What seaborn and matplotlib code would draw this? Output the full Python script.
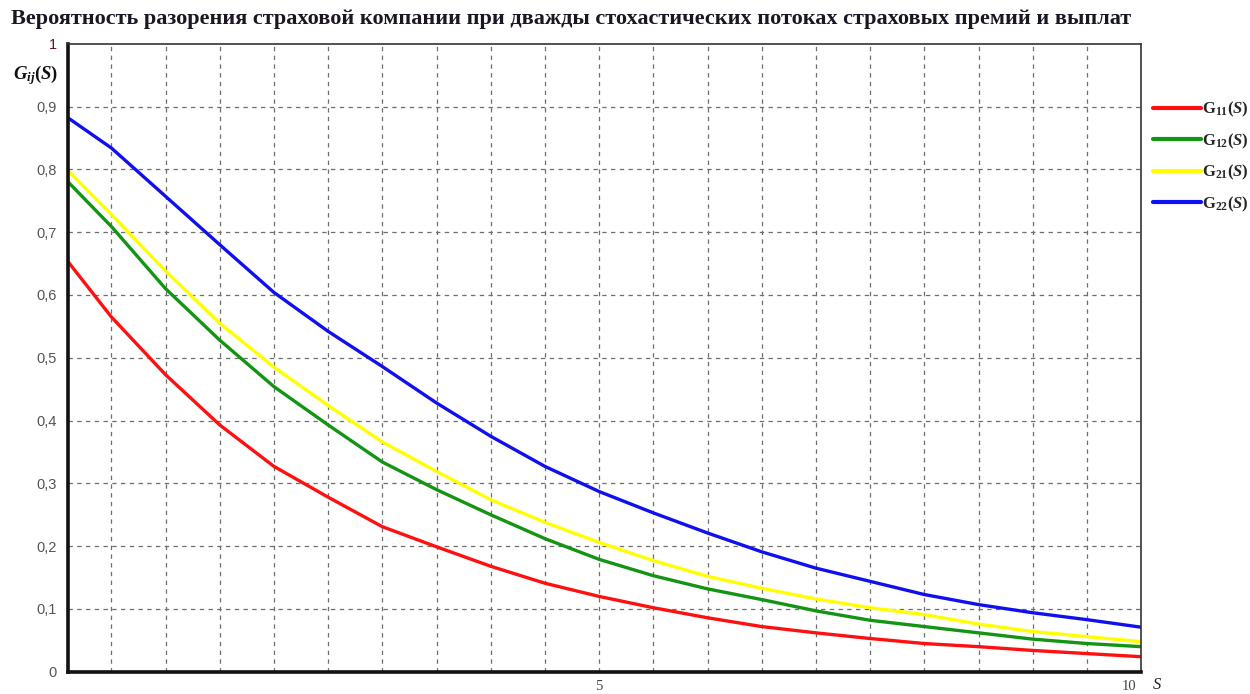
import matplotlib
matplotlib.use("Agg")
import matplotlib.pyplot as plt
import matplotlib.transforms as mtransforms
from matplotlib.ticker import MultipleLocator, FixedLocator
import numpy as np
import pandas as pd
import seaborn as sns

# Initial capital S
s_values = [0.1, 0.5, 1.0, 1.5, 2.0, 2.5, 3.0, 3.5, 4.0, 4.5, 5.0,
            5.5, 6.0, 6.5, 7.0, 7.5, 8.0, 8.5, 9.0, 9.5, 10.0]

# Ruin probabilities for the four premium/claim flow combinations
g11 = [0.653, 0.565, 0.473, 0.393, 0.327, 0.278, 0.231, 0.199, 0.168, 0.141, 0.120,
       0.102, 0.086, 0.072, 0.062, 0.053, 0.045, 0.040, 0.034, 0.029, 0.024]
g12 = [0.780, 0.709, 0.610, 0.528, 0.454, 0.393, 0.334, 0.290, 0.250, 0.212, 0.179,
       0.153, 0.132, 0.115, 0.097, 0.082, 0.072, 0.062, 0.052, 0.045, 0.040]
g21 = [0.798, 0.728, 0.638, 0.555, 0.485, 0.424, 0.366, 0.319, 0.274, 0.238, 0.206,
       0.177, 0.152, 0.133, 0.116, 0.102, 0.091, 0.076, 0.064, 0.056, 0.048]
g22 = [0.882, 0.834, 0.757, 0.680, 0.604, 0.542, 0.486, 0.428, 0.375, 0.327, 0.287,
       0.253, 0.221, 0.191, 0.165, 0.144, 0.123, 0.107, 0.094, 0.083, 0.071]

series_labels = [r"$\mathrm{G}_{11}(S)$", r"$\mathrm{G}_{12}(S)$",
                 r"$\mathrm{G}_{21}(S)$", r"$\mathrm{G}_{22}(S)$"]
series_colors = ["#ff1010", "#139413", "#ffff00", "#1010ee"]

y_ticks = [0, 0.1, 0.2, 0.3, 0.4, 0.5, 0.6, 0.7, 0.8, 0.9, 1.0]
y_tick_labels = ["0", "0,1", "0,2", "0,3", "0,4", "0,5", "0,6", "0,7", "0,8", "0,9", "1"]
x_ticks = [5, 10]
x_tick_labels = ["5", "10"]

title = ("Вероятность разорения страховой компании при дважды стохастических "
         "потоках страховых премий и выплат")

frames = []
for lab, vals in zip(series_labels, [g11, g12, g21, g22]):
    frames.append(pd.DataFrame({"S": s_values, "G": vals, "series": lab}))
df = pd.concat(frames, ignore_index=True)

sns.set_theme(style="white")
plt.rcParams["mathtext.fontset"] = "custom"
plt.rcParams["mathtext.rm"] = "Liberation Serif:bold"
plt.rcParams["mathtext.it"] = "Liberation Serif:italic:bold"
plt.rcParams["mathtext.bf"] = "Liberation Serif:bold"

fig = plt.figure(figsize=(12.5, 6.94), dpi=100)
ax = fig.add_axes([0.0544, 0.032, 0.8585, 0.905])

sns.lineplot(data=df, x="S", y="G", hue="series", palette=series_colors,
             hue_order=series_labels, linewidth=2.4, ax=ax, legend=False,
             sort=False, estimator=None)

ax.set_xlim(0.1, 10)
ax.set_ylim(0, 1)

# Grid: dashed lines every 0.5 along S and every 0.1 along G
for gx in np.arange(0.5, 10, 0.5):
    ax.axvline(gx, color="#6e6e6e", lw=0.9, ls=(0, (3.5, 3.5)), zorder=0)
for gy in np.arange(0.1, 1.0, 0.1):
    ax.axhline(gy, color="#6e6e6e", lw=0.9, ls=(0, (3.5, 3.5)), zorder=0)

ax.yaxis.set_major_locator(FixedLocator(y_ticks))
ax.set_yticklabels(y_tick_labels)
ax.yaxis.set_minor_locator(MultipleLocator(0.025))
ax.xaxis.set_major_locator(FixedLocator(x_ticks))
ax.set_xticklabels(x_tick_labels)
ax.xaxis.set_minor_locator(MultipleLocator(0.125))

ax.tick_params(axis="y", which="major", direction="out", length=5, width=1,
               color="#333333", labelsize=10.5, labelcolor="#555555", pad=3)
ax.tick_params(axis="y", which="minor", direction="out", length=2, width=1,
               color="#444444")
ax.tick_params(axis="x", which="major", direction="out", length=4, width=1,
               color="#999999", labelsize=10.5, labelcolor="#444444", pad=2)
ax.tick_params(axis="x", which="minor", direction="out", length=3, width=1,
               color="#bbbbbb")
for lbl in ax.get_yticklabels():
    lbl.set_fontfamily("Liberation Sans")
ax.get_yticklabels()[-1].set_color("#6a0f2a")
for lbl in ax.get_xticklabels():
    lbl.set_fontfamily("Liberation Serif")
last = ax.get_xticklabels()[-1]
last.set_horizontalalignment("right")
last.set_transform(last.get_transform() +
                   mtransforms.ScaledTranslation(-0.05, 0, fig.dpi_scale_trans))

for side in ["left", "bottom"]:
    ax.spines[side].set_linewidth(2.6)
    ax.spines[side].set_color("#111111")
for side in ["top", "right"]:
    ax.spines[side].set_linewidth(1.2)
    ax.spines[side].set_color("#333333")

ax.set_xlabel("")
ax.set_ylabel("")
ax.text(-0.03, 0.95, r"$G_{ij}(S)$", transform=ax.transAxes, ha="center",
        va="center", fontsize=13.5, color="#111111")
fig.text(0.922, 0.002, "S", ha="left", va="bottom",
         fontsize=12, fontstyle="italic", family="Liberation Serif", color="#222222")

fig.text(0.457, 0.972, title, ha="center", va="center", fontsize=16,
         fontweight="bold", family="Liberation Serif", color="#1c1624")

handles = [plt.Line2D([], [], color=c, lw=3) for c in series_colors]
ax.legend(handles, series_labels, loc="upper left", bbox_to_anchor=(1.0, 0.93),
          frameon=False, handlelength=2.9, handletextpad=0.05, labelspacing=0.72,
          fontsize=12, borderaxespad=0.3)

fig.savefig("out.png", dpi=100)
